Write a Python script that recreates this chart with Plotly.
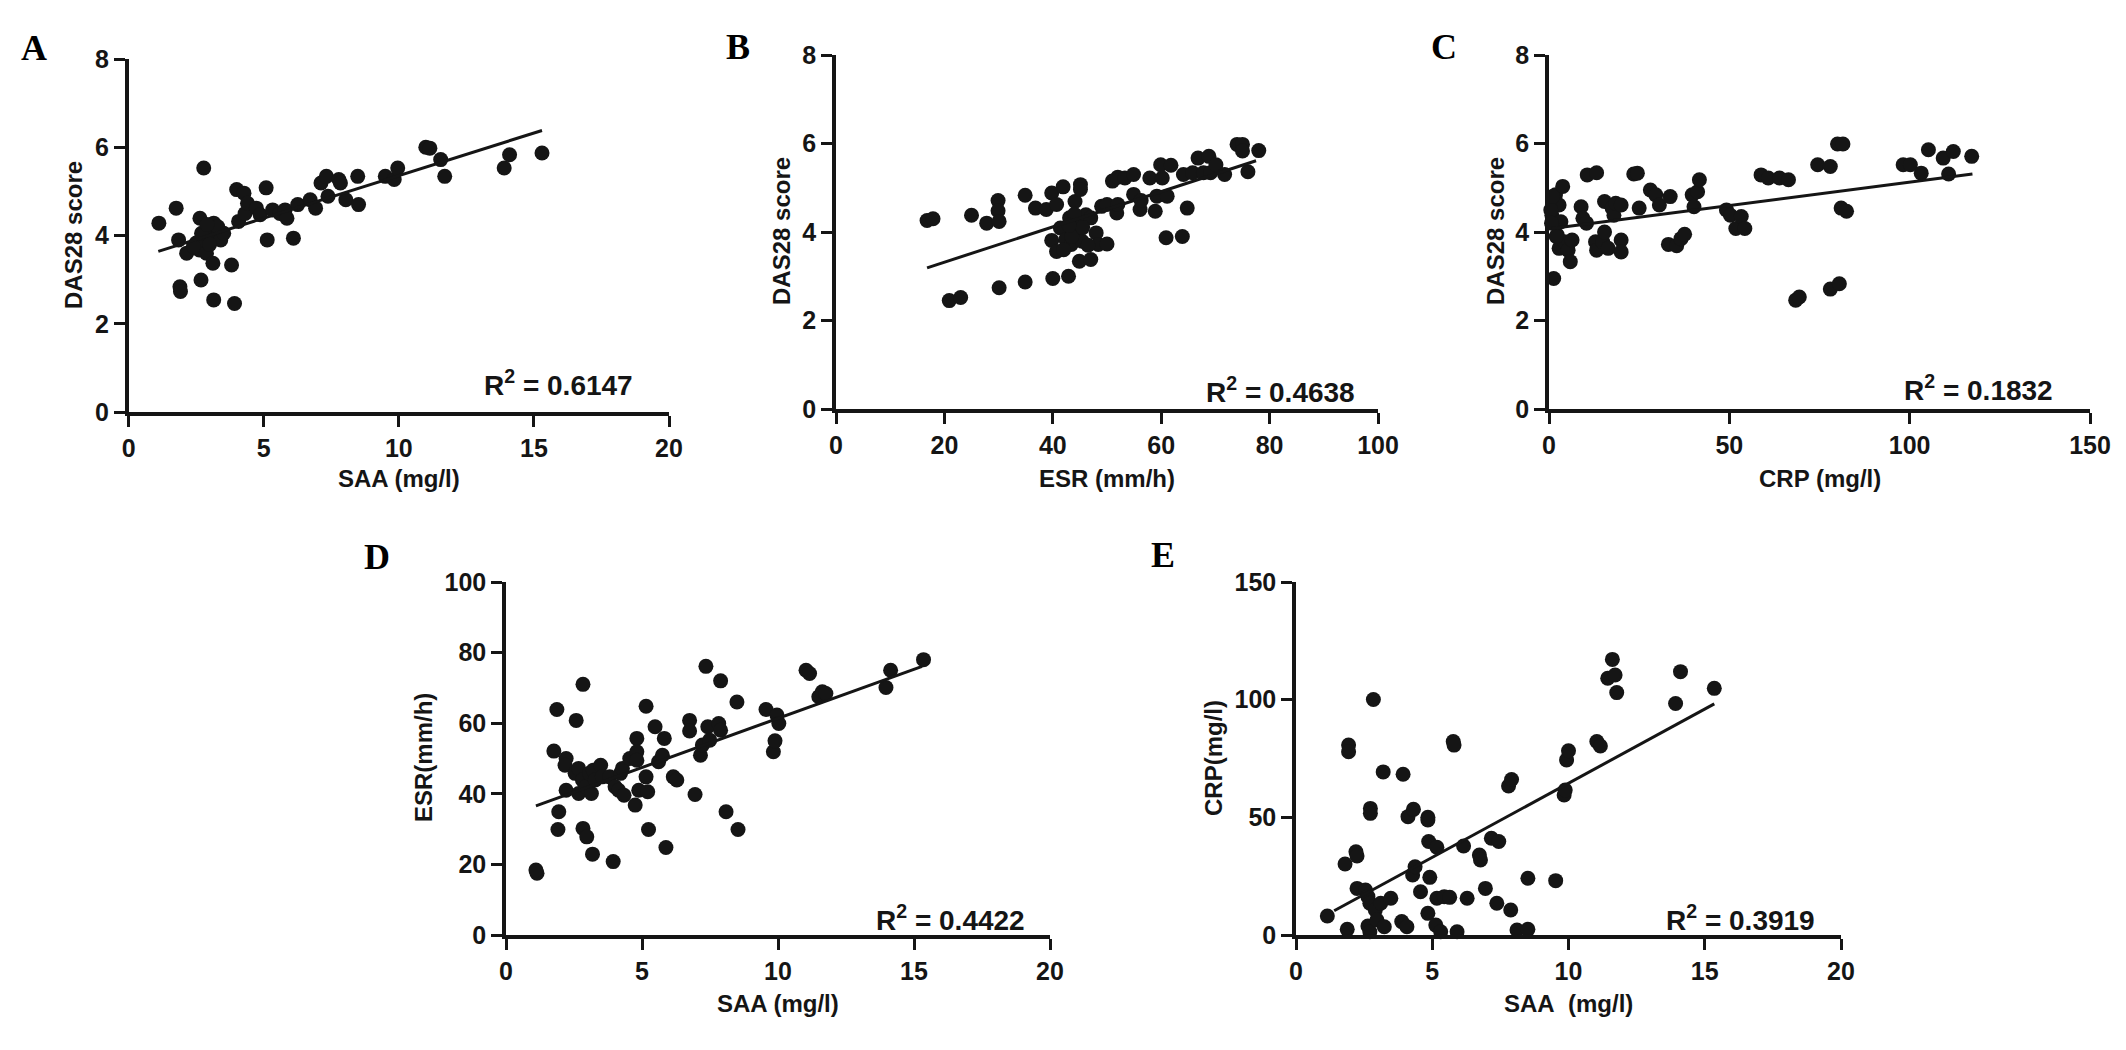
import plotly.graph_objects as go

# ---- panel A: SAA vs DAS28 ----
A_saa = [1.12, 1.76, 1.85, 1.90, 1.92, 2.15, 2.64, 2.68, 2.78, 2.5, 2.62, 2.82, 2.88, 3.02, 3.15,
         3.28, 3.41, 3.12, 3.15, 3.52, 3.81, 3.92, 4.0, 4.07, 4.27, 4.31, 4.40, 4.73, 4.87, 5.09,
         5.13, 5.33, 5.6, 5.79, 5.86, 6.1, 6.26, 6.72, 6.92, 7.12, 7.32, 7.38, 7.78, 7.84, 8.04,
         8.48, 8.51, 9.5, 9.83, 9.96, 11.0, 11.15, 11.55, 11.7, 13.9, 14.1, 15.3,
         2.4, 2.7, 3.0, 3.3, 2.9]
A_das = [4.28, 4.62, 3.90, 2.84, 2.73, 3.6, 4.39, 2.99, 5.53, 3.83, 3.67, 3.9, 3.6, 4.13, 4.28,
         3.98, 3.9, 3.37, 2.54, 4.05, 3.33, 2.46, 5.04, 4.32, 4.96, 4.5, 4.73, 4.62, 4.47, 5.08,
         3.9, 4.58, 4.5, 4.58, 4.39, 3.94, 4.70, 4.81, 4.62, 5.19, 5.34, 4.89, 5.27, 5.19, 4.81,
         5.34, 4.70, 5.34, 5.27, 5.53, 6.0, 5.98, 5.72, 5.34, 5.53, 5.83, 5.87,
         3.75, 4.05, 3.8, 4.2, 4.25]
A_fit_x = [1.1, 15.3]
A_fit_y = [3.64, 6.38]

# ---- panel B: ESR vs DAS28 ----
B_esr = [16.8, 17.9, 20.9, 23.0, 25.0, 27.8, 29.9, 29.9, 30.1, 30.1, 34.9, 34.9, 36.8, 38.8, 39.8,
         40.7, 41.9, 40.0, 42.9, 39.8, 40.7, 41.4, 42.4, 43.1, 43.4, 44.1, 44.4, 44.7, 45.1, 45.1,
         45.4, 46.1, 44.9, 47.0, 47.0, 48.0, 48.4, 50.0, 49.0, 50.0, 51.0, 51.8, 52.0, 52.0, 53.3,
         54.9, 54.9, 56.1, 56.3, 57.9, 58.9, 59.2, 59.9, 60.2, 60.9, 61.1, 61.8, 63.9, 64.8, 64.1,
         65.8, 66.8, 67.8, 68.8, 69.1, 70.1, 71.7, 74.0, 75.0, 75.0, 76.0, 78.0,
         42.0, 43.5, 44.0, 45.5, 46.5, 43.0]
B_das = [4.26, 4.30, 2.45, 2.52, 4.38, 4.2, 4.71, 4.48, 4.24, 2.74, 4.83, 2.87, 4.54, 4.51, 4.88,
         4.62, 5.02, 2.95, 3.0, 3.81, 3.56, 4.09, 3.83, 4.32, 3.72, 4.69, 4.02, 4.24, 5.07, 4.96,
         3.79, 4.39, 3.34, 3.38, 4.32, 3.98, 3.72, 3.73, 4.58, 4.62, 5.15, 4.43, 5.24, 4.62, 5.22,
         5.30, 4.85, 4.51, 4.71, 5.22, 4.47, 4.81, 5.52, 5.22, 3.87, 4.81, 5.51, 3.9, 4.54, 5.30,
         5.34, 5.67, 5.34, 5.71, 5.34, 5.52, 5.30, 5.98, 5.98, 5.83, 5.36, 5.84,
         3.6, 3.9, 4.4, 4.1, 3.7, 4.15]
B_fit_x = [16.8, 77.5]
B_fit_y = [3.19, 5.61]

# ---- panel C: CRP vs DAS28 ----
C_crp = [1.3, 0.8, 1.3, 1.8, 2.8, 3.8, 3.3, 2.3, 2.8, 4.3, 5.3, 6.4, 5.9, 8.9, 9.4,
         10.4, 10.6, 13.2, 12.9, 13.2, 14.9, 15.4, 15.4, 16.4, 17.5, 18.0, 18.5, 20.0, 20.0, 20.0,
         23.5, 24.5, 25.0, 28.1, 29.6, 30.6, 33.6, 33.1, 35.4, 36.6, 37.6, 39.7, 40.2, 41.2, 41.7,
         49.2, 50.3, 51.8, 53.3, 54.3, 58.8, 60.8, 63.9, 66.4, 68.4, 69.4, 74.5, 78.0, 78.0, 80.5,
         80.0, 81.5, 81.0, 82.5, 98.2, 100.2, 103.2, 105.2, 109.3, 110.8, 112.1, 117.2,
         0.5, 1.0, 0.7, 2.0]
C_das = [2.95, 4.38, 4.69, 4.84, 4.61, 5.03, 4.23, 3.93, 3.63, 3.78, 3.59, 3.82, 3.33, 4.57, 4.31,
         4.2, 5.29, 5.34, 3.78, 3.59, 3.78, 4.69, 4.0, 3.63, 4.54, 4.38, 4.65, 3.82, 4.61, 3.55,
         5.31, 5.33, 4.54, 4.95, 4.84, 4.61, 4.80, 3.72, 3.69, 3.85, 3.95, 4.84, 4.57, 4.91, 5.18,
         4.5, 4.38, 4.08, 4.35, 4.08, 5.29, 5.22, 5.22, 5.18, 2.46, 2.53, 5.52, 5.48, 2.71, 2.83,
         5.99, 5.99, 4.54, 4.47, 5.52, 5.52, 5.33, 5.86, 5.67, 5.31, 5.82, 5.71,
         4.5, 4.8, 4.2, 3.9]
C_fit_x = [0.8, 117.4]
C_fit_y = [4.08, 5.31]

# ---- panel D: SAA vs ESR ----
D_saa = [1.14, 1.10, 1.76, 1.87, 1.94, 1.91, 2.21, 2.21, 2.17, 2.58, 2.83, 2.54, 2.67, 2.67, 2.81,
         2.83, 2.97, 2.94, 3.07, 3.14, 3.21, 3.18, 3.28, 3.48, 3.54, 3.81, 3.94, 4.01, 4.14, 4.21,
         4.28, 4.34, 4.55, 4.75, 4.81, 4.81, 4.81, 4.88, 5.15, 5.15, 5.21, 5.24, 5.48, 5.61, 5.75,
         5.82, 5.88, 6.15, 6.28, 6.75, 6.75, 6.95, 7.15, 7.22, 7.35, 7.42, 7.49, 7.82, 7.89, 7.89,
         8.09, 8.49, 8.53, 9.56, 9.83, 9.89, 9.96, 10.03, 11.03, 11.16, 11.5, 11.63, 11.76, 13.97,
         14.14, 15.35]
D_esr = [17.5, 18.4, 52.1, 63.9, 34.9, 29.9, 50.0, 41.0, 48.1, 60.8, 71.0, 45.8, 47.2, 40.1, 43.9,
         30.2, 27.8, 42.0, 45.8, 40.1, 46.7, 22.9, 43.9, 48.1, 44.8, 44.8, 20.8, 42.0, 41.0, 45.8,
         47.2, 39.6, 50.0, 36.8, 55.7, 51.9, 49.5, 41.0, 64.8, 44.8, 40.6, 29.9, 59.0, 49.1, 50.9,
         55.7, 24.8, 44.8, 43.9, 60.8, 57.8, 39.8, 50.9, 53.8, 76.1, 59.0, 55.2, 59.9, 58.0, 72.0,
         34.9, 66.0, 29.9, 63.9, 51.9, 55.0, 62.3, 59.9, 75.0, 74.1, 67.5, 68.9, 68.4, 70.1,
         75.0, 78.0]
D_fit_x = [1.1, 15.3]
D_fit_y = [36.6, 76.1]

# ---- panel E: SAA vs CRP ----
E_saa = [1.15, 1.8, 1.88, 1.93, 1.93, 2.2, 2.24, 2.24, 2.55, 2.64, 2.71, 2.64, 2.71, 2.73, 2.73,
         2.84, 2.91, 2.97, 3.11, 3.24, 3.2, 3.48, 3.88, 3.93, 4.07, 4.11, 4.31, 4.28, 4.37, 4.57,
         4.84, 4.84, 4.84, 4.87, 4.91, 5.13, 5.17, 5.17, 5.31, 5.44, 5.64, 5.77, 5.8, 5.91, 6.15,
         6.28, 6.73, 6.77, 6.95, 7.17, 7.44, 7.37, 7.8, 7.91, 7.88, 8.11, 8.51, 8.51, 9.53, 9.84,
         9.88, 9.93, 10.0, 11.04, 11.17, 11.44, 11.71, 11.61, 11.77, 13.93, 14.11, 15.35]
E_crp = [8.1, 30.2, 2.4, 80.7, 77.9, 35.4, 33.6, 19.8, 19.1, 16.3, 13.5, 3.8, 1.4, 53.8, 51.7,
         100.1, 10.6, 6.4, 13.5, 3.5, 69.3, 15.6, 5.7, 68.3, 3.5, 50.3, 53.4, 25.5, 29.0, 18.4,
         50.0, 48.9, 9.2, 39.7, 24.5, 4.2, 37.3, 15.6, 1.4, 16.3, 16.0, 82.2, 80.7, 1.4, 37.8,
         15.6, 34.0, 31.9, 19.8, 41.1, 39.7, 13.5, 63.3, 66.1, 10.6, 2.1, 2.4, 24.1, 23.1, 59.5,
         61.6, 74.4, 78.3, 82.2, 80.3, 109.1, 110.5, 117.1, 103.0, 98.4, 111.9, 104.8]
E_fit_x = [1.4, 15.35]
E_fit_y = [10.3, 98.2]

# axis ticks
A_xticks = [0, 5, 10, 15, 20]
B_xticks = [0, 20, 40, 60, 80, 100]
C_xticks = [0, 50, 100, 150]
das_ticks = [0, 2, 4, 6, 8]
esr_ticks = [0, 20, 40, 60, 80, 100]
crp_ticks = [0, 50, 100, 150]

r2_labels = ["0.6147", "0.4638", "0.1832", "0.4422", "0.3919"]

# page body keeps its default 8px margin, so the figure is a bit smaller than the window
OFF = 8
W, H = 2126 - 2 * OFF, 1050 - 2 * OFF


def px(x):
    return (x - OFF) / W


def py(y):
    return 1 - (y - OFF) / H


INK = "#151515"
SANS = "Liberation Sans, Arial, sans-serif"
SERIF = "Liberation Serif, Times New Roman, serif"

panels = [
    # x, y, fit x, fit y, xticks, yticks, x extent (px), y extent (px)
    (A_saa, A_das, A_fit_x, A_fit_y, A_xticks, das_ticks, (128.6, 669), (59, 412)),
    (B_esr, B_das, B_fit_x, B_fit_y, B_xticks, das_ticks, (836, 1378), (55, 409)),
    (C_crp, C_das, C_fit_x, C_fit_y, C_xticks, das_ticks, (1549, 2090), (55, 409)),
    (D_saa, D_esr, D_fit_x, D_fit_y, A_xticks, esr_ticks, (506, 1050), (582, 935)),
    (E_saa, E_crp, E_fit_x, E_fit_y, A_xticks, crp_ticks, (1296, 1841), (582, 935)),
]

fig = go.Figure()
layout = {}
for i, (xs, ys, fx, fy, xt, yt, xd, yd) in enumerate(panels):
    n = "" if i == 0 else str(i + 1)
    fig.add_trace(go.Scatter(x=xs, y=ys, mode="markers", xaxis="x" + n, yaxis="y" + n,
                             marker=dict(size=15, color=INK), cliponaxis=False, showlegend=False))
    fig.add_trace(go.Scatter(x=fx, y=fy, mode="lines", xaxis="x" + n, yaxis="y" + n,
                             line=dict(color=INK, width=3), cliponaxis=False, showlegend=False))
    common = dict(showline=True, linecolor=INK, linewidth=3.5, ticks="outside", ticklen=11,
                  tickwidth=3, tickcolor=INK, showgrid=False, zeroline=False, automargin=False,
                  tickfont=dict(family=SANS, size=25, color=INK, weight="bold"))
    layout["xaxis" + n] = dict(common, domain=[px(xd[0]), px(xd[1])], range=[xt[0], xt[-1]],
                               tickvals=xt, anchor="y" + n)
    layout["yaxis" + n] = dict(common, domain=[py(yd[1]), py(yd[0])], range=[yt[0], yt[-1]],
                               tickvals=yt, anchor="x" + n)

annotations = []
# panel letters
for letter, (lx, ly) in zip("ABCDE", [(34, 48), (738, 47), (1444, 47), (377, 557), (1163, 555)]):
    annotations.append(dict(text=letter, x=px(lx), y=py(ly), xref="paper", yref="paper",
                            showarrow=False, xanchor="center", yanchor="middle",
                            font=dict(family=SERIF, size=36, color="black", weight="bold")))

# axis titles
x_titles = [("SAA (mg/l)", 399, 478), ("ESR (mm/h)", 1107, 478), ("CRP (mg/l)", 1820, 478),
            ("SAA (mg/l)", 778, 1003), ("SAA  (mg/l)", 1568, 1003)]
y_titles = [("DAS28 score", 74, 235), ("DAS28 score", 782, 231), ("DAS28 score", 1496, 231),
            ("ESR(mm/h)", 423, 758), ("CRP(mg/l)", 1213, 758)]
for t, tx, ty in x_titles:
    annotations.append(dict(text=t.replace("  ", "\u00a0\u00a0"), x=px(tx), y=py(ty),
                            xref="paper", yref="paper", showarrow=False,
                            xanchor="center", yanchor="middle",
                            font=dict(family=SANS, size=24, color=INK, weight="bold")))
for t, tx, ty in y_titles:
    annotations.append(dict(text=t, x=px(tx), y=py(ty), xref="paper", yref="paper",
                            showarrow=False, xanchor="center", yanchor="middle", textangle=-90,
                            font=dict(family=SANS, size=24, color=INK, weight="bold")))

# R squared labels
for r2, (rx, ry) in zip(r2_labels, [(558, 383), (1280, 390), (1978, 388), (950, 918), (1740, 918)]):
    annotations.append(dict(text="R<sup>2</sup> = " + r2, x=px(rx), y=py(ry), xref="paper",
                            yref="paper", showarrow=False, xanchor="center", yanchor="middle",
                            font=dict(family=SANS, size=28, color=INK, weight="bold")))

fig.update_layout(width=W, height=H, margin=dict(l=0, r=0, t=0, b=0),
                  plot_bgcolor="white", paper_bgcolor="white",
                  annotations=annotations, **layout)

fig.write_html("out.html")
